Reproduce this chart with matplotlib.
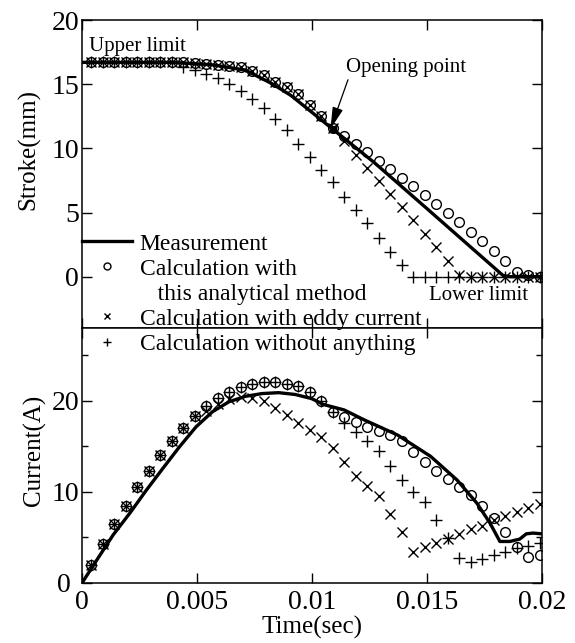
import matplotlib
matplotlib.use("Agg")
import matplotlib.pyplot as plt
import matplotlib.transforms as mtransforms
from matplotlib.lines import Line2D

plt.rcParams.update({
    "font.family": ["Liberation Serif", "DejaVu Serif"],
    "axes.linewidth": 1.1,
})

W, H = 575, 643

# sample times of the calculated points (s)
T = [0.0004, 0.0009, 0.0014, 0.0019, 0.0024, 0.0029, 0.0034, 0.0039,
     0.0044, 0.0049, 0.0054, 0.0059, 0.0064, 0.0069, 0.0074, 0.0079,
     0.0084, 0.0089, 0.0094, 0.0099, 0.0104, 0.0109, 0.0114, 0.0119,
     0.0124, 0.0129, 0.0134, 0.0139, 0.0144, 0.0149, 0.0154, 0.0159,
     0.0164, 0.0169, 0.0174, 0.0179, 0.0184, 0.0189, 0.0194, 0.0199]

# stroke (mm)
STROKE_MEAS_T = [0, 0.004, 0.0057, 0.0071, 0.0083, 0.0091, 0.0100, 0.0109,
                 0.0127, 0.0150, 0.0183, 0.0186, 0.0200]
STROKE_MEAS = [16.7, 16.7, 16.5, 16.1, 15.0, 14.1, 12.8, 11.5,
               8.9, 5.3, 0.1, 0.0, 0.0]
STROKE_ANALYTICAL = [16.7, 16.7, 16.7, 16.7, 16.7, 16.7, 16.7, 16.7,
                     16.7, 16.65, 16.6, 16.5, 16.4, 16.3, 16.0, 15.7,
                     15.2, 14.75, 14.2, 13.4, 12.55, 11.6, 11.0, 10.35,
                     9.7, 9.0, 8.4, 7.7, 7.05, 6.4, 5.7, 4.95,
                     4.25, 3.5, 2.75, 2.0, 1.25, 0.4, 0.1, 0.0]
STROKE_EDDY = [16.7, 16.7, 16.7, 16.7, 16.7, 16.7, 16.7, 16.7,
               16.7, 16.65, 16.6, 16.5, 16.4, 16.3, 16.0, 15.7,
               15.2, 14.75, 14.2, 13.4, 12.55, 11.6, 10.6, 9.5,
               8.47, 7.45, 6.45, 5.43, 4.45, 3.35, 2.3, 1.25,
               0.1, 0.0, 0.0, 0.0, 0.0, 0.0, 0.0, 0.0]
STROKE_NOTHING = [16.7, 16.7, 16.7, 16.7, 16.7, 16.7, 16.7, 16.7,
                  16.35, 16.1, 15.8, 15.5, 15.05, 14.5, 13.85, 13.15,
                  12.3, 11.4, 10.35, 9.3, 8.3, 7.35, 6.2, 5.2,
                  4.15, 3.05, 1.95, 0.9, 0.0, 0.0, 0.0, 0.0,
                  0.0, 0.0, 0.0, 0.0, 0.0, 0.0, 0.0, 0.0]
OPENING_T, OPENING_S = 0.0109, 11.5

# current (A)
CURRENT_MEAS_T = [0, 0.00065, 0.00136, 0.00208, 0.0028, 0.00352, 0.00424,
                  0.00496, 0.00567, 0.00639, 0.00711, 0.00783, 0.00855,
                  0.00927, 0.00998, 0.0105, 0.0108, 0.0114, 0.01228,
                  0.01372, 0.01516, 0.01631, 0.01717, 0.01774, 0.01817,
                  0.0186, 0.01903, 0.01932, 0.01961, 0.02]
CURRENT_MEAS = [0, 2.55, 5.3, 7.67, 10.2, 12.6, 14.96,
                17.15, 18.8, 19.9, 20.5, 20.8, 20.9,
                20.7, 20.25, 19.6, 19.4, 19.0, 17.9,
                16.25, 13.9, 11.3, 8.76, 6.57, 4.56,
                4.56, 4.82, 5.4, 5.48, 5.4]
CURRENT_ANALYTICAL = [2.0, 4.3, 6.45, 8.5, 10.5, 12.35, 14.05, 15.6,
                      17.0, 18.35, 19.45, 20.35, 21.0, 21.5, 21.9, 22.1,
                      22.1, 21.9, 21.6, 21.0, 20.0, 18.8, 18.2, 17.7,
                      17.15, 16.7, 16.2, 15.6, 14.4, 13.3, 12.3, 11.4,
                      10.5, 9.65, 8.5, 7.1, 5.55, 3.95, 2.85, 3.1]
CURRENT_EDDY = [2.0, 4.3, 6.45, 8.5, 10.5, 12.35, 14.05, 15.6,
                17.0, 18.35, 18.9, 19.7, 20.25, 20.4, 20.35, 20.0,
                19.2, 18.4, 17.55, 16.75, 16.0, 14.85, 13.25, 11.8,
                10.65, 9.55, 7.55, 5.6, 3.45, 4.0, 4.4, 4.8,
                5.4, 5.9, 6.3, 6.9, 7.35, 7.75, 8.2, 8.7]
CURRENT_NOTHING = [2.0, 4.3, 6.45, 8.5, 10.5, 12.35, 14.05, 15.6,
                   17.0, 18.35, 19.45, 20.35, 21.0, 21.5, 21.9, 22.1,
                   22.1, 21.9, 21.6, 21.0, 20.0, 18.8, 17.6, 16.6,
                   15.6, 14.5, 12.8, 11.3, 9.95, 8.85, 6.95, 4.95,
                   2.75, 2.35, 2.6, 3.1, 3.45, 3.85, 4.1, 4.4]

TIME_TICKS = [0, 0.005, 0.01, 0.015, 0.02]
TIME_TICK_LABELS = ["0", "0.005", "0.01", "0.015", "0.02"]
STROKE_TICKS = [0, 5, 10, 15, 20]
CURRENT_TICKS = [0, 10, 20]
CURRENT_MINOR = [5, 15, 25]

LEGEND_LABELS = ["Measurement", "Calculation with", "   this analytical method",
                 "Calculation with eddy current", "Calculation without anything"]

O_STYLE = dict(ls="none", marker="o", mfc="none", mec="black", ms=7, mew=1.0)
X_STYLE = dict(ls="none", marker="x", color="black", ms=6.5, mew=1.0)
P_STYLE = dict(ls="none", marker="+", color="black", ms=8, mew=1.0)
LINE_W = 2.4

fig = plt.figure(figsize=(W / 100, H / 100), dpi=100)
ax1 = fig.add_axes([82 / W, 1 - 328 / H, 460 / W, 308 / H])
ax2 = fig.add_axes([82 / W, 1 - 583 / H, 460 / W, 255 / H])

# stroke panel
ax1.plot(STROKE_MEAS_T, STROKE_MEAS, color="black", lw=LINE_W)
ax1.plot(T, STROKE_ANALYTICAL, **O_STYLE)
ax1.plot(T, STROKE_EDDY, **X_STYLE)
ax1.plot(T, STROKE_NOTHING, **P_STYLE)
ax1.plot([OPENING_T], [OPENING_S], ls="none", marker="s", color="black", ms=5)

ax1.text(0.0003, 17.9, "Upper limit", fontsize=15, va="center")
ax1.text(0.0151, -1.45, "Lower limit", fontsize=15, va="center")
ax1.annotate("Opening point", xy=(OPENING_T - 0.0001, OPENING_S),
             xytext=(0.01148, 16.3), fontsize=15, va="center", ha="left",
             arrowprops=dict(arrowstyle="-|>,head_length=0.9,head_width=0.22",
                             color="black", lw=0.9, relpos=(0.03, 0.1),
                             shrinkA=0, shrinkB=0))

ax1.set_ylim(-4, 20)
ax1.set_yticks(STROKE_TICKS)
ax1.set_ylabel("Stroke(mm)", fontsize=18, va="center")
ax1.yaxis.set_label_coords(-0.115, 0.578)

# current panel
ax2.plot(CURRENT_MEAS_T, CURRENT_MEAS, color="black", lw=LINE_W)
ax2.plot(T, CURRENT_ANALYTICAL, **O_STYLE)
ax2.plot(T, CURRENT_EDDY, **X_STYLE)
ax2.plot(T, CURRENT_NOTHING, **P_STYLE)

ax2.set_ylim(0, 28)
ax2.set_yticks(CURRENT_TICKS)
ax2.set_yticks(CURRENT_MINOR, minor=True)
ax2.set_ylabel("Current(A)", fontsize=18, va="center")
ax2.yaxis.set_label_coords(-0.104, 0.52)
ax2.set_xlabel("Time(sec)", fontsize=18, labelpad=1)

for ax in (ax1, ax2):
    ax.set_xlim(0, 0.02)
    ax.set_xticks(TIME_TICKS)
    ax.tick_params(which="both", direction="in", top=True, right=True,
                   width=1, labelsize=20)
    ax.tick_params(which="major", length=7)
    ax.tick_params(which="minor", length=4)
    ax.tick_params(axis="y", pad=2)
    ax.tick_params(axis="x", pad=5)

ax1.set_xticklabels([])
ax2.set_xticklabels(TIME_TICK_LABELS)

# the "0" of the current axis sits a little left of the corner
zero_lbl = ax2.yaxis.get_major_ticks()[0].label1
zero_lbl.set_transform(zero_lbl.get_transform()
                       + mtransforms.ScaledTranslation(-8 / 100, 0, fig.dpi_scale_trans))

handles = [
    Line2D([], [], color="black", lw=LINE_W),
    Line2D([], [], ls="none", marker="o", mfc="none", mec="black", ms=5, mew=1),
    Line2D([], [], ls="none"),
    Line2D([], [], ls="none", marker="x", color="black", ms=4.5, mew=1),
    Line2D([], [], ls="none", marker="+", color="black", ms=6, mew=1),
]
fig.legend(handles, LEGEND_LABELS, loc="upper left",
           bbox_to_anchor=(82 / W, 1 - 233 / H), frameon=False, fontsize=17,
           handlelength=2.1, handletextpad=0.35, labelspacing=0.15,
           borderpad=0, borderaxespad=0)

fig.savefig("out.png", dpi=100, facecolor="white")
